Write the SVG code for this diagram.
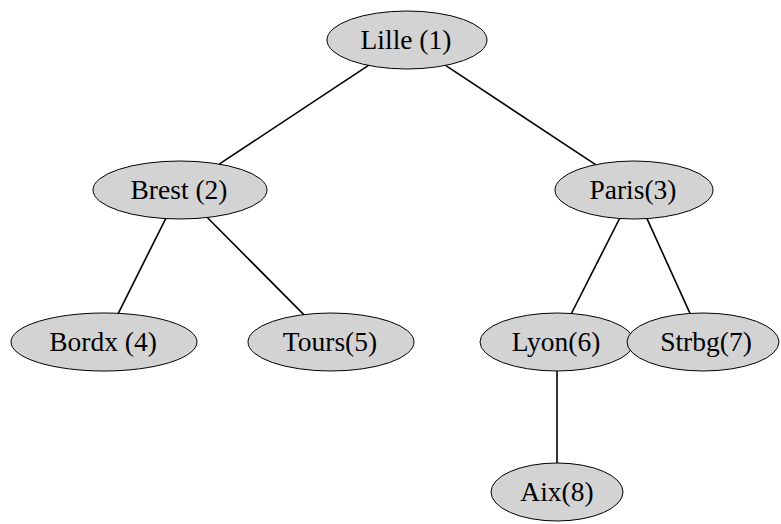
<svg xmlns="http://www.w3.org/2000/svg" width="781" height="524" viewBox="0 0 781 524">
<style>
.n ellipse{fill:#d3d3d3;stroke:#000;stroke-width:1}
.n text{font-family:"Liberation Serif","Times New Roman",serif;font-size:27.5px;fill:#000;text-anchor:middle}
#edges line{stroke:#000;stroke-width:1.6}
</style>
<rect width="781" height="524" fill="#fff"/>
<g id="edges">
<line x1="368.5" y1="65.4" x2="219.2" y2="164.1"/>
<line x1="445.5" y1="65.4" x2="595.6" y2="164.7"/>
<line x1="165.7" y1="218.6" x2="118.3" y2="313.3"/>
<line x1="207.3" y1="217.5" x2="303.8" y2="314.6"/>
<line x1="619.6" y1="218.5" x2="571.4" y2="313.5"/>
<line x1="647" y1="218.6" x2="690" y2="313.4"/>
<line x1="557" y1="371" x2="557" y2="463"/>
</g>
<g id="n1" class="n"><ellipse cx="407" cy="40" rx="80" ry="29"/><text x="406" y="49">Lille (1)</text></g>
<g id="n2" class="n"><ellipse cx="180" cy="190" rx="87" ry="29"/><text x="179" y="199">Brest (2)</text></g>
<g id="n3" class="n"><ellipse cx="634" cy="190" rx="79" ry="29"/><text x="633" y="199">Paris(3)</text></g>
<g id="n4" class="n"><ellipse cx="104" cy="342" rx="93" ry="29"/><text x="103" y="351">Bordx (4)</text></g>
<g id="n5" class="n"><ellipse cx="331" cy="342" rx="83" ry="29"/><text x="330" y="351">Tours(5)</text></g>
<g id="n6" class="n"><ellipse cx="557" cy="342" rx="77" ry="29"/><text x="556" y="351">Lyon(6)</text></g>
<g id="n7" class="n"><ellipse cx="703" cy="342" rx="76" ry="29"/><text x="706" y="351">Strbg(7)</text></g>
<g id="n8" class="n"><ellipse cx="557" cy="492" rx="66" ry="29"/><text x="557" y="501">Aix(8)</text></g>
</svg>
